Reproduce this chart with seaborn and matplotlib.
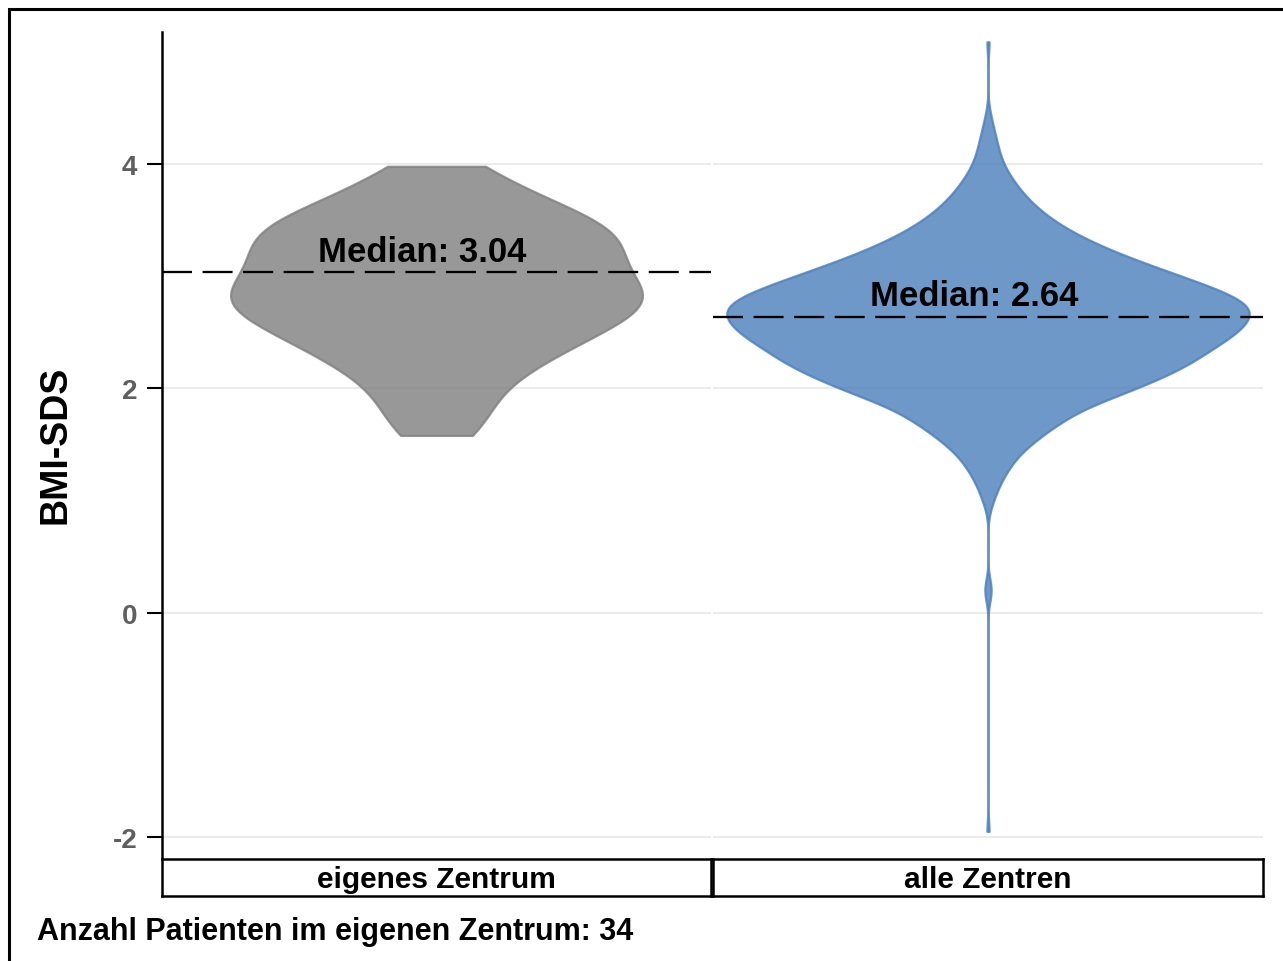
import numpy as np
import pandas as pd
import matplotlib
matplotlib.use("Agg")
import matplotlib.pyplot as plt
from matplotlib.patches import Rectangle
import seaborn as sns

# BMI-SDS of the patients treated in the own centre (n = 34)
own_centre_bmi_sds = [
    1.58, 1.78, 1.95, 2.10, 2.21, 2.30, 2.37, 2.44, 2.50, 2.56,
    2.62, 2.66, 2.71, 2.75, 2.79, 2.83, 2.87, 2.92, 2.97, 3.02,
    3.08, 3.13, 3.19, 3.24, 3.29, 3.34, 3.39, 3.44, 3.49, 3.55,
    3.62, 3.70, 3.82, 3.98,
]

# all centres: BMI-SDS classes and number of patients per class
all_centres_levels = [
    -1.95, 0.18, 0.20, 0.22,
    0.94, 1.04, 1.14, 1.24, 1.34, 1.44, 1.54, 1.64, 1.74, 1.84, 1.94,
    2.04, 2.14, 2.24, 2.34, 2.44, 2.54, 2.64, 2.74, 2.84, 2.94,
    3.04, 3.14, 3.24, 3.34, 3.44, 3.54, 3.64, 3.74, 3.84, 3.94,
    4.04, 4.14, 4.24, 4.34, 4.44,
    5.09,
]
all_centres_counts = [
    1, 1, 1, 1,
    1, 3, 4, 7, 9, 13, 18, 24, 30, 37, 50,
    60, 70, 78, 83, 91, 96, 100, 100, 92, 80,
    68, 56, 45, 36, 28, 22, 17, 13, 10, 7,
    5, 4, 3, 2, 1,
    1,
]

# reported medians per group
group_medians = [3.04, 2.64]

group_labels = ["eigenes Zentrum", "alle Zentren"]
group_colors = ["#7F7F7F", "#4A7EBB"]
y_ticks = [-2, 0, 2, 4]
y_label = "BMI-SDS"
caption = "Anzahl Patienten im eigenen Zentrum: {n}"

sns.set_style("white")
plt.rcParams["font.family"] = ["Liberation Sans", "DejaVu Sans"]
plt.rcParams["axes.unicode_minus"] = False

own = np.asarray(own_centre_bmi_sds, dtype=float)
alle = np.repeat(np.asarray(all_centres_levels, dtype=float), all_centres_counts)

df = pd.concat([
    pd.DataFrame({"Gruppe": group_labels[0], "BMI-SDS": own}),
    pd.DataFrame({"Gruppe": group_labels[1], "BMI-SDS": alle}),
], ignore_index=True)

W, H = 1283, 962
fig = plt.figure(figsize=(W / 100, H / 100), dpi=100)
fig.patch.set_facecolor("white")


def fx(px):
    return px / W


def fy(py):
    return 1 - py / H


panel_top, panel_bottom = 33, 858
panels = [(162, 711), (713, 1263)]
ylim = (-2.178, 5.177)
bandwidths = [0.20, 0.10]
widths = [0.75, 0.95]

axes = []
for i, (x0, x1) in enumerate(panels):
    ax = fig.add_axes([fx(x0), fy(panel_bottom), fx(x1 - x0),
                       (panel_bottom - panel_top) / H])
    sub = df[df["Gruppe"] == group_labels[i]]
    vals = sub["BMI-SDS"].to_numpy()
    sns.violinplot(
        data=sub, x="Gruppe", y="BMI-SDS", ax=ax,
        color=group_colors[i], linecolor=group_colors[i], saturation=1,
        linewidth=1.6, inner=None, cut=0, density_norm="width",
        width=widths[i], gridsize=500,
        bw_method=bandwidths[i] / np.std(vals, ddof=1),
    )
    for coll in ax.collections:
        coll.set_alpha(0.8)
    ax.set_xlim(-0.5, 0.5)
    ax.set_ylim(*ylim)
    ax.set_yticks(y_ticks)
    ax.set_xticks([])
    ax.set_xlabel("")
    ax.set_ylabel("")
    ax.grid(False)
    ax.yaxis.grid(True, color="#EBEBEB", linewidth=1.5)
    ax.set_axisbelow(True)
    for s in ax.spines.values():
        s.set_visible(False)

    med = group_medians[i]
    ax.axhline(med, color="black", linewidth=1.65, linestyle=(0, (13.1, 4.6)),
               zorder=5)
    ax.annotate(f"Median: {med:.2f}", xy=(0, med), xytext=(-10, 8),
                textcoords="offset points", ha="center", va="baseline",
                fontsize=25, fontweight="bold", color="black", zorder=6)
    axes.append(ax)

# y axis only on the first panel
ax0 = axes[0]
ax0.spines["left"].set_visible(True)
ax0.spines["left"].set_color("black")
ax0.spines["left"].set_linewidth(1.8)
ax0.tick_params(axis="y", direction="out", length=10.8, width=1.5,
                color="black", labelsize=20, labelcolor="#5F5F5F", pad=7,
                left=True)
for lbl in ax0.get_yticklabels():
    lbl.set_fontweight("bold")
axes[1].tick_params(axis="y", left=False, labelleft=False)

# facet strips below the panels
strip_top, strip_bottom = 860, 897
for (x0, x1), label in zip(panels, group_labels):
    sax = fig.add_axes([fx(x0), fy(strip_bottom), fx(x1 - x0),
                        (strip_bottom - strip_top) / H])
    sax.set_facecolor("white")
    sax.set_xticks([])
    sax.set_yticks([])
    for s in sax.spines.values():
        s.set_visible(True)
        s.set_color("black")
        s.set_linewidth(1.8)
    sax.text(0.5, 0.45, label, transform=sax.transAxes, ha="center",
             va="center", fontsize=21.5, fontweight="bold", color="black")

fig.text(fx(55), fy(445), y_label, rotation=90, ha="center", va="center",
         fontsize=27, fontweight="bold", color="black")
fig.text(fx(37), fy(940), caption.format(n=len(own)), ha="left",
         va="baseline", fontsize=22, fontweight="bold", color="black")

# frame around the whole graphic
fig.add_artist(Rectangle((fx(8.5), -0.05), 1.2, fy(9.5) + 0.05,
                         transform=fig.transFigure, fill=False,
                         edgecolor="black", linewidth=2.2, clip_on=False))

fig.savefig("out.png", dpi=100, facecolor="white")
